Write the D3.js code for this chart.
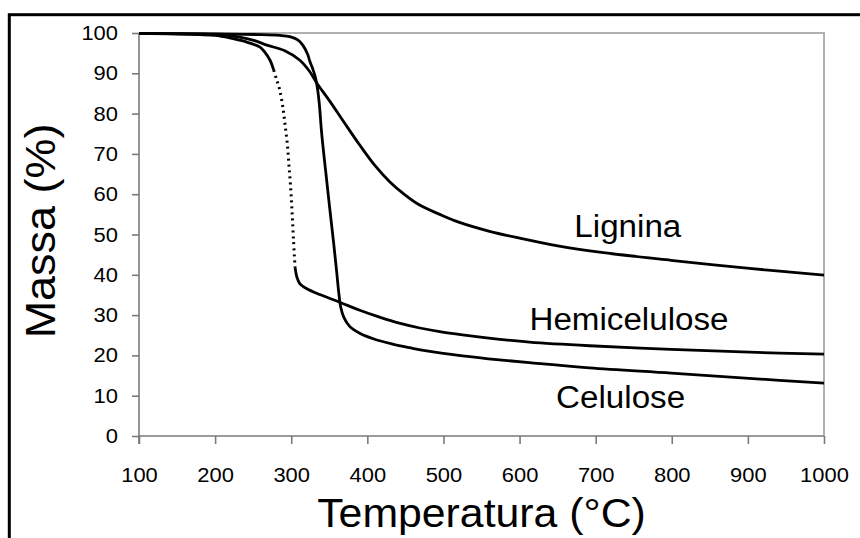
<!DOCTYPE html>
<html>
<head>
<meta charset="utf-8">
<script src="https://cdn.jsdelivr.net/npm/d3@7/dist/d3.min.js"></script>
<style>
body { margin: 0; background: #fff; }
text { font-family: "Liberation Sans", Arial, sans-serif; fill: #000; }
</style>
</head>
<body>
<div id="chart"></div>
<script>
// curves: [temperature °C, mass %]
const celulose = [[100,99.9],[200,99.75],[259,99.6],[285,99.4],[298,99.1],[308.6,98.3],[315.2,97],[321.8,94.6],[324.4,93],[328.3,91.1],[331.6,89.1],[334.2,86.6],[336.8,82.6],[340.1,74.9],[345.4,65.5],[350.6,56.5],[355.9,47.6],[359.8,40.6],[362.4,35.7],[365,32],[369,29.5],[376.8,27.2],[390,25.5],[409.6,24],[433.2,22.8],[455.6,21.9],[477.9,21.1],[525,19.9],[573.6,18.9],[613,18.2],[691.7,16.9],[799.3,15.6],[901.6,14.3],[1000,13.1]];
const hemicelulose = [[100,99.9],[180,99.6],[200,99.4],[219,98.8],[239,97.9],[259,96.5],[265,95.3],[272,93.3],[277,90.8],[281,88.3],[285,85.8],[289,81.6],[292,77.1],[295,72.2],[297,67.2],[299,62.3],[301,56],[303,48.6],[305,41.9],[307.5,39.4],[311,37.9],[320,36.6],[337.5,35.1],[363.7,33.2],[390,31.2],[416,29.5],[442,28],[469,26.8],[495,25.9],[525,25.1],[574,24],[613,23.3],[692,22.4],[799,21.5],[902,20.8],[1000,20.3]];
const lignina = [[100,99.9],[200,99.6],[232,99],[252,98.1],[268,97],[291.5,95.6],[311,93.3],[324,90.5],[333.5,87.6],[350.6,83.1],[370.3,77.6],[390,72.2],[409.6,67.2],[429.3,63.1],[449,59.9],[468.7,57.3],[495,55],[521,53],[560.5,50.8],[600,49.1],[652,47.1],[705,45.6],[799,43.6],[902,41.6],[1000,39.9]];
const hemiDotted = [277, 305]; // part of the hemicelulose curve drawn dotted

const xTicks = [100,200,300,400,500,600,700,800,900,1000];
const yTicks = [0,10,20,30,40,50,60,70,80,90,100];

// label anchors in data units (temperature, mass)
const curveLabels = [
    {name: "Lignina", t: 672, m: 49.3},
    {name: "Hemicelulose", t: 613, m: 26.2},
    {name: "Celulose", t: 648, m: 6.9}
];

const W = 860, H = 538;
const margin = {top: 33, right: 35, bottom: 102, left: 139};
const sx = 1.07; // source font is a little wider than Liberation Sans

const svg = d3.select("#chart").append("svg")
    .attr("width", W)
    .attr("height", H);

// outer frame, cut by the window on the right and bottom
svg.append("rect")
    .attr("x", 9.3).attr("y", 14.7)
    .attr("width", 900).attr("height", 600)
    .attr("fill", "none")
    .attr("stroke", "#000")
    .attr("stroke-width", 3);

const x = d3.scaleLinear().domain([100, 1000]).range([margin.left, W - margin.right - 1]);
const y = d3.scaleLinear().domain([0, 100]).range([H - margin.bottom, margin.top]);

// top and right box lines
svg.append("path")
    .attr("d", `M${x(100)},${y(100)}H${x(1000)}V${y(0)}`)
    .attr("fill", "none")
    .attr("stroke", "#b0b0b0")
    .attr("stroke-width", 2);

const xAxis = svg.append("g")
    .attr("transform", `translate(0,${y(0)})`)
    .call(d3.axisBottom(x).tickValues(xTicks).tickSize(8).tickPadding(23).tickFormat(d3.format("d")));

const yAxis = svg.append("g")
    .attr("transform", `translate(${x(100)},0)`)
    .call(d3.axisLeft(y).tickValues(yTicks).tickSize(7).tickPadding(14).tickFormat(d3.format("d")));

[xAxis, yAxis].forEach(g => {
    g.select(".domain").attr("stroke", "#7a7a7a").attr("stroke-width", 1.6);
    g.selectAll(".tick line").attr("stroke", "#7a7a7a").attr("stroke-width", 1.6);
    g.selectAll(".tick text")
        .attr("fill", "#000")
        .style("font-size", "20.5px")
        .style("font-family", '"Liberation Sans", Arial, sans-serif');
});
xAxis.select(".domain").attr("d", `M${x(100)},0H${x(1000)}`);
yAxis.select(".domain").attr("d", `M0,${y(0) + 8}V${y(100)}`);
xAxis.selectAll(".tick text").attr("transform", `scale(${sx},1)`);
yAxis.selectAll(".tick text").attr("transform", `scale(${sx},1)`).attr("x", -21 / sx);

const line = d3.line()
    .x(d => x(d[0]))
    .y(d => y(d[1]))
    .curve(d3.curveCatmullRom.alpha(0.5));

const plot = svg.append("g").attr("fill", "none").attr("stroke", "#000");

plot.append("path").attr("d", line(celulose)).attr("stroke-width", 2.8);
plot.append("path").attr("d", line(lignina)).attr("stroke-width", 2.8);

plot.append("path")
    .attr("d", line(hemicelulose.filter(d => d[0] <= hemiDotted[0])))
    .attr("stroke-width", 2.8);
plot.append("path")
    .attr("d", line(hemicelulose.filter(d => d[0] >= hemiDotted[0] && d[0] <= hemiDotted[1])))
    .attr("stroke-width", 3)
    .attr("stroke-dasharray", "2,4");
plot.append("path")
    .attr("d", line(hemicelulose.filter(d => d[0] >= hemiDotted[1])))
    .attr("stroke-width", 2.8);

// curve names
svg.selectAll(".curve-label")
    .data(curveLabels)
    .enter().append("text")
    .attr("class", "curve-label")
    .attr("transform", d => `translate(${x(d.t)},${y(d.m)}) scale(${sx},1)`)
    .style("font-size", "31px")
    .text(d => d.name);

// axis titles
svg.append("text")
    .attr("transform", `translate(${(x(100) + x(1000)) / 2},527) scale(${sx},1)`)
    .attr("text-anchor", "middle")
    .style("font-size", "40px")
    .text("Temperatura (°C)");

svg.append("text")
    .attr("transform", `translate(55,231) rotate(-90) scale(${sx},1)`)
    .attr("text-anchor", "middle")
    .style("font-size", "42px")
    .text("Massa  (%)");
</script>
</body>
</html>
